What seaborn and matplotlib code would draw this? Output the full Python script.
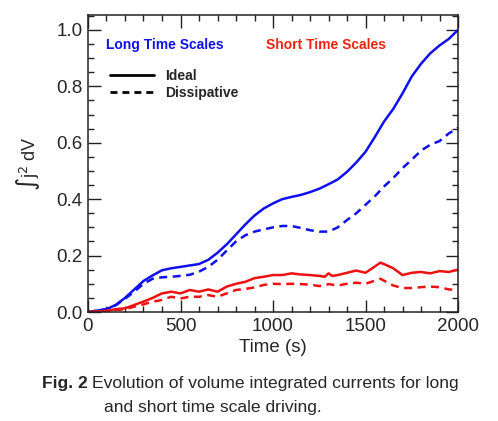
import numpy as np
import pandas as pd
import matplotlib.pyplot as plt
import seaborn as sns
from matplotlib.lines import Line2D
from matplotlib.ticker import MultipleLocator

# values
t_long_ideal = [0, 100, 150, 200, 250, 300, 350, 400, 450, 500, 550, 600, 650, 700, 750, 800, 850, 900, 950,
                1000, 1050, 1100, 1150, 1200, 1250, 1300, 1350, 1400, 1450, 1500, 1550, 1600, 1650, 1700,
                1750, 1800, 1850, 1900, 1950, 2000]
long_ideal = [0.0, 0.01, 0.025, 0.05, 0.08, 0.11, 0.13, 0.148, 0.155, 0.16, 0.165, 0.17, 0.185, 0.21, 0.24,
              0.275, 0.31, 0.342, 0.367, 0.385, 0.4, 0.408, 0.415, 0.425, 0.437, 0.453, 0.47, 0.497, 0.53,
              0.568, 0.62, 0.675, 0.72, 0.775, 0.835, 0.88, 0.917, 0.945, 0.968, 1.0]

t_long_diss = [0, 100, 150, 200, 250, 300, 350, 400, 450, 500, 550, 600, 650, 700, 750, 800, 850, 900, 950,
               1000, 1050, 1100, 1150, 1200, 1250, 1300, 1350, 1400, 1450, 1500, 1550, 1600, 1650, 1700,
               1750, 1800, 1850, 1900, 1950, 2000]
long_diss = [0.0, 0.01, 0.024, 0.047, 0.072, 0.10, 0.118, 0.123, 0.125, 0.128, 0.132, 0.143, 0.16, 0.185,
             0.218, 0.25, 0.272, 0.285, 0.293, 0.30, 0.305, 0.305, 0.298, 0.29, 0.285, 0.285, 0.30, 0.326,
             0.35, 0.38, 0.41, 0.445, 0.475, 0.51, 0.54, 0.572, 0.593, 0.606, 0.633, 0.653]

t_short = [0, 100, 150, 200, 250, 300, 350, 380, 400, 450, 500, 550, 600, 650, 700, 750, 800, 850, 900, 950,
           1000, 1050, 1100, 1150, 1200, 1250, 1280, 1300, 1320, 1350, 1400, 1450, 1500, 1550, 1580, 1600,
           1650, 1700, 1750, 1800, 1850, 1900, 1950, 2000]
short_ideal = [0.0, 0.004, 0.01, 0.013, 0.025, 0.037, 0.05, 0.06, 0.066, 0.072, 0.066, 0.078, 0.072, 0.08,
               0.072, 0.09, 0.10, 0.107, 0.12, 0.125, 0.131, 0.131, 0.137, 0.133, 0.131, 0.128, 0.125, 0.137,
               0.128, 0.131, 0.139, 0.147, 0.139, 0.161, 0.175, 0.17, 0.155, 0.131, 0.139, 0.142, 0.137,
               0.145, 0.142, 0.15]
short_diss = [0.0, 0.003, 0.007, 0.01, 0.019, 0.027, 0.037, 0.04, 0.043, 0.054, 0.048, 0.054, 0.054, 0.06,
              0.054, 0.066, 0.078, 0.082, 0.087, 0.096, 0.10, 0.099, 0.10, 0.099, 0.097, 0.092, 0.094, 0.099,
              0.097, 0.094, 0.10, 0.104, 0.10, 0.111, 0.118, 0.111, 0.094, 0.085, 0.085, 0.088, 0.09, 0.088,
              0.08, 0.078]

frames = [
    pd.DataFrame({'time': t_long_ideal, 'val': long_ideal, 'scale': 'Long', 'kind': 'Ideal'}),
    pd.DataFrame({'time': t_long_diss, 'val': long_diss, 'scale': 'Long', 'kind': 'Dissipative'}),
    pd.DataFrame({'time': t_short, 'val': short_ideal, 'scale': 'Short', 'kind': 'Ideal'}),
    pd.DataFrame({'time': t_short, 'val': short_diss, 'scale': 'Short', 'kind': 'Dissipative'}),
]
df = pd.concat(frames, ignore_index=True)

sns.set_style('ticks')
plt.rcParams['font.family'] = ['Liberation Sans', 'DejaVu Sans']

fig = plt.figure(figsize=(4.98, 4.21), dpi=100)
ax = fig.add_axes([0.1767, 0.2589, 0.743, 0.7055])

sns.lineplot(data=df, x='time', y='val', hue='scale', style='kind',
             palette={'Long': '#1010ee', 'Short': '#ee1111'},
             dashes={'Ideal': '', 'Dissipative': (3.2, 2.2)},
             linewidth=1.8, legend=False, ax=ax, estimator=None, sort=False)

ax.set_xlim(0, 2000)
ax.set_ylim(0, 1.053)
ax.xaxis.set_major_locator(MultipleLocator(500))
ax.xaxis.set_minor_locator(MultipleLocator(100))
ax.yaxis.set_major_locator(MultipleLocator(0.2))
ax.yaxis.set_minor_locator(MultipleLocator(0.05))
ax.yaxis.set_major_formatter(plt.FormatStrFormatter('%.1f'))
ax.tick_params(which='both', direction='in', top=True, right=True, labelsize=13.5, color='#222222', width=1.0)
ax.tick_params(which='major', length=9, pad=4)
ax.tick_params(which='minor', length=4)
for s in ax.spines.values():
    s.set_linewidth(1.1)
    s.set_color('#222222')

ax.set_xlabel('Time (s)', fontsize=13.5, labelpad=3)
ax.set_ylabel('∫j$^2$ dV', fontsize=13, labelpad=10)

ax.text(0.05, 0.90, 'Long Time Scales', transform=ax.transAxes, color='#1010ee',
        fontsize=10, fontweight='bold', va='center')
ax.text(0.48, 0.90, 'Short Time Scales', transform=ax.transAxes, color='#ee2211',
        fontsize=10, fontweight='bold', va='center')

handles = [Line2D([], [], color='black', lw=2.0),
           Line2D([], [], color='black', lw=2.0, dashes=(2.5, 1.8))]
ax.legend(handles, ['Ideal', 'Dissipative'], loc='upper left', bbox_to_anchor=(0.025, 0.86),
          frameon=False, handlelength=3.2, handletextpad=0.8, labelspacing=0.2,
          prop={'weight': 'bold', 'size': 10})

# caption below the axes
cap = fig.text(0.084, 0.09, 'Fig. 2', fontsize=12.6, fontweight='bold', va='center')
ax.annotate('Evolution of volume integrated currents for long', xy=(1, 0.5), xycoords=cap,
            xytext=(3, 0), textcoords='offset points', fontsize=12.6, va='center',
            annotation_clip=False)
fig.text(0.209, 0.033, 'and short time scale driving.', fontsize=12.6, va='center')

fig.savefig('out.png', dpi=100)
